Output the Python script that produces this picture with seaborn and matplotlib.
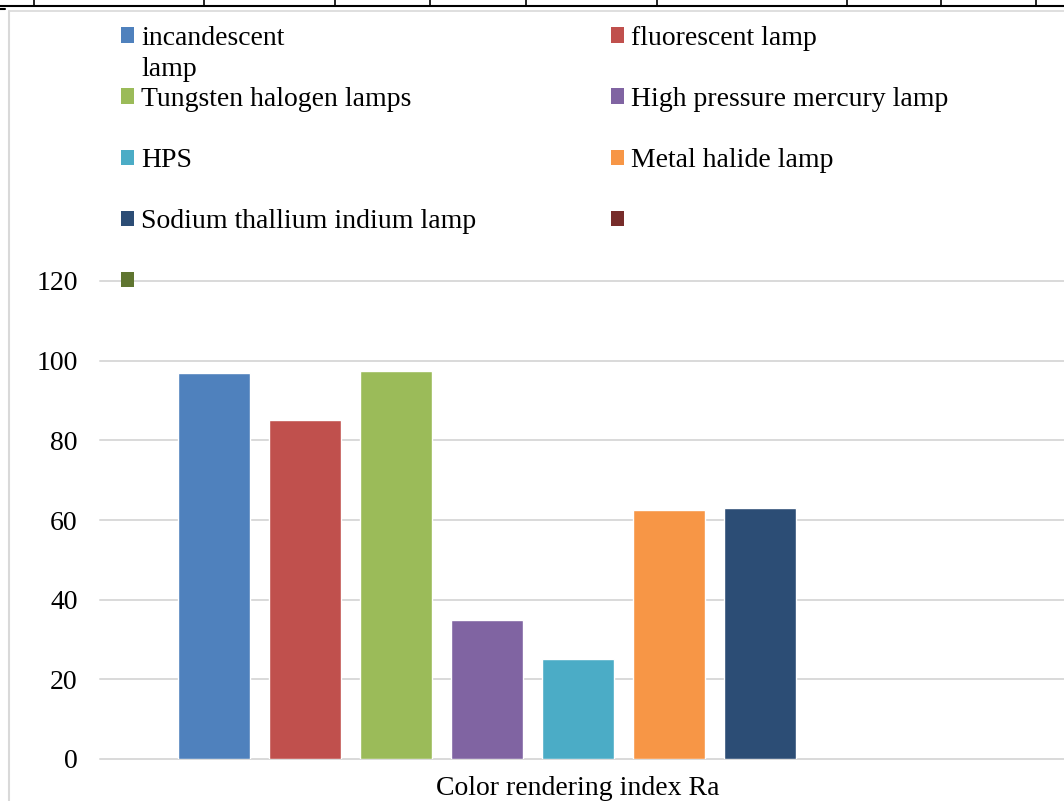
import numpy as np
import pandas as pd
import matplotlib
matplotlib.use("Agg")
import matplotlib.pyplot as plt
from matplotlib.lines import Line2D
from matplotlib.patches import Patch
import seaborn as sns

# data
category = "Color rendering index Ra"
series = ["incandescent", "fluorescent lamp", "Tungsten halogen lamps",
          "High pressure mercury lamp", "HPS", "Metal halide lamp",
          "Sodium thallium indium lamp", "Series 8", "Series 9"]
legend_labels = ["incandescent", "fluorescent lamp", "Tungsten halogen lamps",
                 "High pressure mercury lamp", "HPS", "Metal halide lamp",
                 "Sodium thallium indium lamp", "", ""]
values = [97, 85, 97.5, 35, 25, 62.5, 63, np.nan, np.nan]
colors = ["#4F81BD", "#C0504D", "#9BBB59", "#8064A2", "#4BACC6",
          "#F79646", "#2C4D75", "#772C2A", "#5F7530"]
yticks = [0, 20, 40, 60, 80, 100, 120]

sns.set_theme(style="white")
plt.rcParams["font.family"] = ["Liberation Serif", "DejaVu Serif"]
plt.rcParams["text.color"] = "black"

df = pd.DataFrame({"cat": [category] * len(series), "lamp": series, "value": values})

W, H = 1064, 801
fig = plt.figure(figsize=(W / 100, H / 100), dpi=100)
ax = fig.add_axes([100 / W, 42 / H, 1 - 100 / W, (759 - 281) / H])

sns.barplot(data=df, x="cat", y="value", hue="lamp", hue_order=series,
            palette=dict(zip(series, colors)), width=0.8, gap=0.21,
            saturation=1, legend=False, ax=ax)

ax.set_ylim(0, 120)
ax.set_xlim(-0.467, 0.475)
ax.set_yticks(yticks)
ax.set_yticklabels([str(t) for t in yticks])
ax.set_xlabel("")
ax.set_ylabel("")
ax.yaxis.grid(True, color="#D9D9D9", linewidth=1.4)
ax.set_axisbelow(True)
for sp in ax.spines.values():
    sp.set_visible(False)
ax.tick_params(axis="y", length=0, pad=16, labelsize=20, labelcolor="black")
ax.tick_params(axis="x", length=0, pad=12, labelsize=20, labelcolor="black")
for gl in ax.get_ygridlines():
    gl.set_clip_on(False)

# legend, filled row by row like the original (2 columns)
order = [0, 2, 4, 6, 8, 1, 3, 5, 7]
handles = [Patch(facecolor=colors[i], edgecolor="none") for i in order]
labels = [legend_labels[i] for i in order]
leg = fig.legend(handles, labels, loc="upper left", ncol=2,
                 bbox_to_anchor=(121 / W, 1 - 26 / H), frameon=False,
                 fontsize=20, labelcolor="black",
                 handlelength=0.48, handleheight=0.48,
                 handletextpad=0.25, labelspacing=1.3, columnspacing=4.84,
                 borderpad=0, borderaxespad=0)

fig.canvas.draw()
bb = leg.get_texts()[0].get_window_extent()
fig.text(bb.x0 / W, (bb.y0 - 31) / H, "lamp", fontsize=20, color="black",
         ha="left", va="bottom")

# frame pieces of the surrounding page
fig.add_artist(Line2D([0, 1], [1 - 6 / H] * 2, color="black", lw=1.5))
for xp in [34, 204, 335, 430, 526, 657, 847, 941, 1036]:
    fig.add_artist(Line2D([xp / W] * 2, [1, 1 - 6 / H], color="black", lw=1.2))
fig.add_artist(Line2D([9 / W, 1], [1 - 11 / H] * 2, color="#D9D9D9", lw=1.2))
fig.add_artist(Line2D([9 / W] * 2, [0, 1 - 11 / H], color="#D9D9D9", lw=1.5))
fig.add_artist(Line2D([0, 5 / W], [1 - 9 / H] * 2, color="black", lw=1.5))

fig.savefig("out.png", dpi=100)
